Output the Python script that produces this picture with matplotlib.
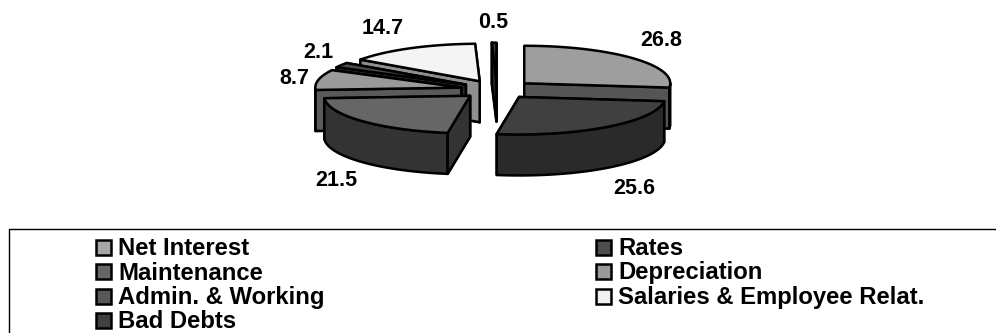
import numpy as np
import matplotlib
matplotlib.use("Agg")
import matplotlib.pyplot as plt
from matplotlib.patches import Polygon, Rectangle

plt.rcParams['font.family'] = ['Liberation Sans', 'DejaVu Sans']

categories = ['Net Interest', 'Rates', 'Maintenance', 'Depreciation',
              'Admin. & Working', 'Salaries & Employee Relat.', 'Bad Debts']
values = [26.8, 25.6, 21.5, 8.7, 2.1, 14.7, 0.5]
value_labels = ['26.8', '25.6', '21.5', '8.7', '2.1', '14.7', '0.5']

top_colors = ['#9e9e9e', '#404040', '#666666', '#9a9a9a', '#4a4a4a', '#f4f4f4', '#404040']
side_colors = ['#555555', '#2a2a2a', '#333333', '#5a5a5a', '#2a2a2a', '#8f8f8f', '#262626']
legend_colors = ['#a6a6a6', '#4d4d4d', '#666666', '#999999', '#595959', '#f0f0f0', '#404040']

# pie geometry, in pixels
CX, CY = 497, 89.5
RX, RY = 146, 37.5
DEPTH = 41
EXPLODE = 0.25

label_xy = [(661, 41), (634, 188), (336, 180), (294, 78), (318, 53), (383, 28), (493, 22)]

fig = plt.figure(figsize=(9.96, 3.33), dpi=100)
ax = fig.add_axes([0, 0, 1, 1])
ax.set_xlim(0, 996)
ax.set_ylim(333, 0)
ax.axis('off')

LW = 1.8


def rim(a0, a1, ox, oy):
    # angles are clockwise from 12 o'clock
    t = np.radians(np.linspace(a0, a1, 80))
    return np.column_stack([ox + RX * np.sin(t), oy - RY * np.cos(t)])


def face(pts, color, z):
    ax.add_patch(Polygon(pts, closed=True, facecolor=color, edgecolor='black',
                         linewidth=LW, joinstyle='round', zorder=z))


angles = np.cumsum([0] + values) / sum(values) * 360
mids = (angles[:-1] + angles[1:]) / 2

# back slices first
order = sorted(range(len(values)), key=lambda i: -np.cos(np.radians(mids[i])) + abs(np.sin(np.radians(mids[i]))) * 0.1)
for n, i in enumerate(order):
    a0, a1 = angles[i], angles[i + 1]
    ox = CX + EXPLODE * RX * np.sin(np.radians(mids[i]))
    oy = CY - EXPLODE * RY * np.cos(np.radians(mids[i]))
    z = 2 + n
    top = rim(a0, a1, ox, oy)
    apex = np.array([ox, oy])
    down = np.array([0, DEPTH])
    # radial walls
    for p in (top[0], top[-1]):
        face([apex, p, p + down, apex + down], side_colors[i], z)
    # outer wall, only the part facing the viewer
    f0, f1 = max(a0, 90), min(a1, 270)
    if f1 > f0:
        front = rim(f0, f1, ox, oy)
        face(np.vstack([front, (front + down)[::-1]]), side_colors[i], z)
    # redraw the radial wall that faces the viewer
    if 0 < a1 < 180:
        face([apex, top[-1], top[-1] + down, apex + down], side_colors[i], z)
    if 180 < a0 < 360:
        face([apex, top[0], top[0] + down, apex + down], side_colors[i], z)
    face(np.vstack([apex, top]), top_colors[i], z)

for txt, (x, y) in zip(value_labels, label_xy):
    ax.text(x, y, txt, ha='center', va='center', fontsize=15.5, fontweight='bold', zorder=20)

# legend box, cut off by the picture edge
ax.plot([9, 9, 996], [333, 229, 229], color='black', lw=1, clip_on=True)

col_x = [95, 595]
row_y = [247, 271.5, 296, 320.5]
legend_pos = [(0, 0), (1, 0), (0, 1), (1, 1), (0, 2), (1, 2), (0, 3)]
for name, color, (c, r) in zip(categories, legend_colors, legend_pos):
    ax.add_patch(Rectangle((col_x[c] + 1, row_y[r] - 7.5), 15, 15, facecolor=color,
                           edgecolor='black', linewidth=1.8))
    ax.text(col_x[c] + 23, row_y[r] + 8, name, ha='left', va='baseline',
            fontsize=17.2, fontweight='bold')

fig.savefig('out.png', dpi=100)
